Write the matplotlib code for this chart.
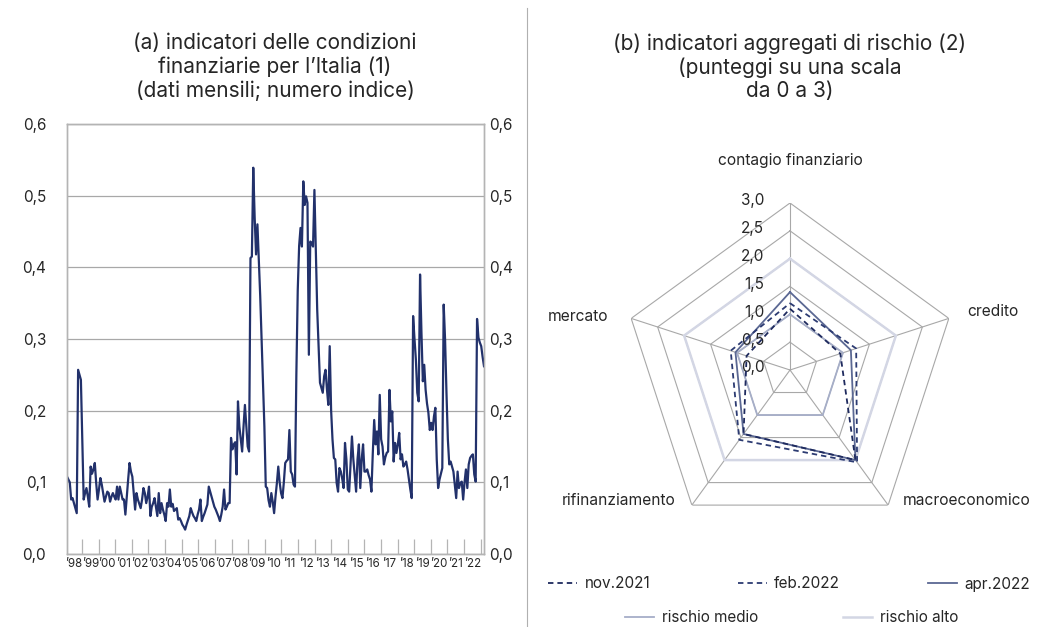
import numpy as np
import matplotlib
matplotlib.use("Agg")
import matplotlib.pyplot as plt
from matplotlib.lines import Line2D

plt.rcParams['font.family'] = ['Inter', 'DejaVu Sans']

# ---------------- data ----------------
anni = ["’98", "’99", "’00", "’01", "’02", "’03", "’04", "’05", "’06", "’07", "’08", "’09", "’10",
        "’11", "’12", "’13", "’14", "’15", "’16", "’17", "’18", "’19", "’20", "’21", "’22"]

# indicatore delle condizioni finanziarie per l'Italia (dati mensili)
indice = [
    0.108, 0.104, 0.100, 0.076, 0.078, 0.071, 0.064, 0.057, 0.257, 0.250, 0.243, 0.160,
    0.076, 0.085, 0.092, 0.080, 0.066, 0.122, 0.112, 0.118, 0.127, 0.099, 0.076, 0.090,
    0.106, 0.097, 0.085, 0.073, 0.080, 0.087, 0.085, 0.073, 0.080, 0.085, 0.080, 0.076,
    0.094, 0.076, 0.094, 0.085, 0.076, 0.076, 0.055, 0.080, 0.104, 0.127, 0.115, 0.108,
    0.085, 0.062, 0.085, 0.076, 0.070, 0.064, 0.076, 0.092, 0.085, 0.071, 0.080, 0.094,
    0.053, 0.066, 0.071, 0.078, 0.065, 0.053, 0.085, 0.057, 0.071, 0.062, 0.055, 0.046,
    0.071, 0.066, 0.090, 0.066, 0.070, 0.060, 0.062, 0.064, 0.048, 0.050, 0.046, 0.041,
    0.038, 0.034, 0.041, 0.047, 0.053, 0.064, 0.058, 0.053, 0.050, 0.046, 0.055, 0.062,
    0.076, 0.046, 0.052, 0.057, 0.063, 0.069, 0.094, 0.087, 0.080, 0.073, 0.066, 0.062,
    0.057, 0.052, 0.046, 0.055, 0.066, 0.090, 0.062, 0.066, 0.071, 0.071, 0.162, 0.146,
    0.153, 0.156, 0.111, 0.213, 0.178, 0.160, 0.143, 0.178, 0.208, 0.178, 0.150, 0.143,
    0.413, 0.415, 0.539, 0.470, 0.418, 0.460, 0.410, 0.360, 0.300, 0.240, 0.178, 0.094,
    0.092, 0.075, 0.066, 0.085, 0.073, 0.057, 0.080, 0.099, 0.122, 0.100, 0.085, 0.078,
    0.100, 0.127, 0.130, 0.132, 0.173, 0.115, 0.111, 0.097, 0.094, 0.250, 0.368, 0.430,
    0.455, 0.429, 0.520, 0.487, 0.499, 0.490, 0.278, 0.436, 0.434, 0.429, 0.508, 0.427,
    0.341, 0.290, 0.239, 0.232, 0.225, 0.248, 0.257, 0.230, 0.208, 0.290, 0.201, 0.160,
    0.134, 0.132, 0.099, 0.087, 0.120, 0.115, 0.105, 0.092, 0.155, 0.132, 0.090, 0.087,
    0.127, 0.164, 0.132, 0.110, 0.087, 0.132, 0.153, 0.092, 0.132, 0.153, 0.115, 0.115,
    0.118, 0.110, 0.104, 0.087, 0.141, 0.187, 0.153, 0.171, 0.139, 0.222, 0.160, 0.150,
    0.125, 0.135, 0.141, 0.143, 0.229, 0.185, 0.199, 0.129, 0.155, 0.141, 0.153, 0.169,
    0.132, 0.139, 0.122, 0.125, 0.129, 0.118, 0.104, 0.090, 0.078, 0.332, 0.300, 0.271,
    0.225, 0.213, 0.390, 0.309, 0.241, 0.264, 0.229, 0.210, 0.197, 0.173, 0.183, 0.173,
    0.192, 0.204, 0.132, 0.092, 0.104, 0.112, 0.120, 0.348, 0.299, 0.225, 0.160, 0.125,
    0.129, 0.122, 0.115, 0.097, 0.078, 0.115, 0.092, 0.099, 0.101, 0.076, 0.100, 0.118,
    0.092, 0.125, 0.134, 0.137, 0.139, 0.111, 0.101, 0.328, 0.302, 0.295, 0.290, 0.275, 0.262,
]

y_ticks = [0.0, 0.1, 0.2, 0.3, 0.4, 0.5, 0.6]

categorie = ["contagio finanziario", "credito", "macroeconomico", "rifinanziamento", "mercato"]
nov_2021 = [1.10, 0.95, 2.00, 1.42, 0.82]
feb_2022 = [1.20, 1.25, 2.05, 1.55, 1.12]
apr_2022 = [1.40, 1.15, 2.00, 1.42, 1.03]
rischio_medio = [1.0, 1.0, 1.0, 1.0, 1.0]
rischio_alto = [2.0, 2.0, 2.0, 2.0, 2.0]
livelli = [0.0, 0.5, 1.0, 1.5, 2.0, 2.5, 3.0]

# ---------------- figure ----------------
W, H = 1039, 627
fig = plt.figure(figsize=(W / 100, H / 100), dpi=100)


def fx(px):
    return px / W


def fy(py):
    return 1 - py / H


TXT = '#262626'
GRID = '#a8a8a8'
NAVY = '#22316b'

# ---- panel (a) ----
ax = fig.add_axes([fx(67), fy(554), fx(484) - fx(67), fy(124) - fy(554)])
x = np.arange(len(indice))
ax.plot(x, indice, color=NAVY, lw=1.6, zorder=3)
ax.set_xlim(0, len(indice) - 1)
ax.set_ylim(y_ticks[0], y_ticks[-1])
ax.set_yticks(y_ticks)
ax.set_yticklabels([f"{v:.1f}".replace('.', ',') for v in y_ticks])
ax.yaxis.grid(True, color=GRID, lw=0.9)
ax.set_axisbelow(True)
for s in ax.spines.values():
    s.set_color('#b4b4b4')
    s.set_linewidth(1.0)
ax.tick_params(axis='y', length=0, labelsize=11, pad=15, colors=TXT)

# year boundaries and label positions
step = 11.95
bounds = [10.8 + step * k for k in range(len(anni))]
mids = [(b - step + b) / 2 for b in bounds]
ax.set_xticks(bounds)
ax.set_xticks(mids, minor=True)
ax.set_xticklabels(anni, minor=True)
ax.tick_params(axis='x', which='major', direction='in', length=10.5, width=0.9,
               color='#b4b4b4', labelbottom=False)
ax.tick_params(axis='x', which='minor', length=0, labelsize=8.3, pad=3, colors=TXT)

ax2 = ax.twinx()
ax2.set_ylim(y_ticks[0], y_ticks[-1])
ax2.set_yticks(y_ticks)
ax2.set_yticklabels([f"{v:.1f}".replace('.', ',') for v in y_ticks])
ax2.tick_params(axis='y', length=0, labelsize=11, pad=4, colors=TXT)
for s in ax2.spines.values():
    s.set_color('#b4b4b4')
    s.set_linewidth(1.0)

fig.text(fx(275), fy(67), "(a) indicatori delle condizioni\nfinanziarie per l’Italia (1)\n(dati mensili; numero indice)",
         ha='center', va='center', fontsize=15, linespacing=1.2, color=TXT)

# ---- panel (b) ----
R = 167
axr = fig.add_axes([fx(790 - R), fy(370 + R), 2 * R / W, 2 * R / H], projection='polar')
axr.set_theta_offset(np.pi / 2)
axr.set_theta_direction(-1)
axr.set_ylim(0, livelli[-1])
axr.grid(False)
axr.set_xticks([])
axr.set_yticks([])
axr.spines['polar'].set_visible(False)
axr.patch.set_alpha(0)

n = len(categorie)
theta = np.arange(n) * 2 * np.pi / n
tc = np.append(theta, theta[0])


def closed(v):
    return list(v) + [v[0]]


for lv in livelli[1:]:
    axr.plot(tc, [lv] * (n + 1), color=GRID, lw=0.8, zorder=1)
for t in theta:
    axr.plot([t, t], [0, livelli[-1]], color=GRID, lw=0.8, zorder=1)

l_alto, = axr.plot(tc, closed(rischio_alto), color='#d3d6e4', lw=1.8, zorder=2)
l_medio, = axr.plot(tc, closed(rischio_medio), color='#a6aec8', lw=1.3, zorder=2)
l_apr, = axr.plot(tc, closed(apr_2022), color='#5b6893', lw=1.3, zorder=3)
l_feb, = axr.plot(tc, closed(feb_2022), color='#2c3b72', lw=1.3, ls=(0, (3, 2.2)), zorder=4)
l_nov, = axr.plot(tc, closed(nov_2021), color='#1e2a5e', lw=1.3, ls=(0, (3, 2.2)), zorder=4)

for lv in livelli:
    axr.annotate(f"{lv:.1f}".replace('.', ','), xy=(0, lv), xytext=(-18.5, 1.5),
                 textcoords='offset points', ha='right', va='center', fontsize=11, color=TXT)

offs = [(0, 30.7), (31.7, 5), (56.2, 3.6), (-52.6, 3.6), (-38.2, 1.4)]
for t, lab, off in zip(theta, categorie, offs):
    axr.annotate(lab, xy=(t, livelli[-1]), xytext=off, textcoords='offset points',
                 ha='center', va='center', fontsize=11.2, color=TXT)

fig.text(fx(790), fy(67), "(b) indicatori aggregati di rischio (2)\n(punteggi su una scala\nda 0 a 3)",
         ha='center', va='center', fontsize=15, linespacing=1.2, color=TXT)

# legends
fig.legend([l_nov, l_feb, l_apr], ['nov.2021', 'feb.2022', 'apr.2022'], loc='center',
           bbox_to_anchor=(fx(548), fy(596), fx(1030) - fx(548), fy(572) - fy(596)),
           mode='expand', ncol=3, frameon=False, handlelength=1.9, handletextpad=0.5,
           fontsize=11, borderaxespad=0, borderpad=0, labelcolor=TXT)
fig.legend([l_medio, l_alto], ['rischio medio', 'rischio alto'], loc='center',
           bbox_to_anchor=(fx(625), fy(630), fx(958) - fx(625), fy(606) - fy(630)),
           mode='expand', ncol=2, frameon=False, handlelength=1.9, handletextpad=0.5,
           fontsize=11, borderaxespad=0, borderpad=0, labelcolor=TXT)

# separator
fig.add_artist(Line2D([fx(527), fx(527)], [fy(627), fy(8)], color='#b0b0b0', lw=0.8,
                      transform=fig.transFigure))

fig.savefig('out.png', dpi=100)
